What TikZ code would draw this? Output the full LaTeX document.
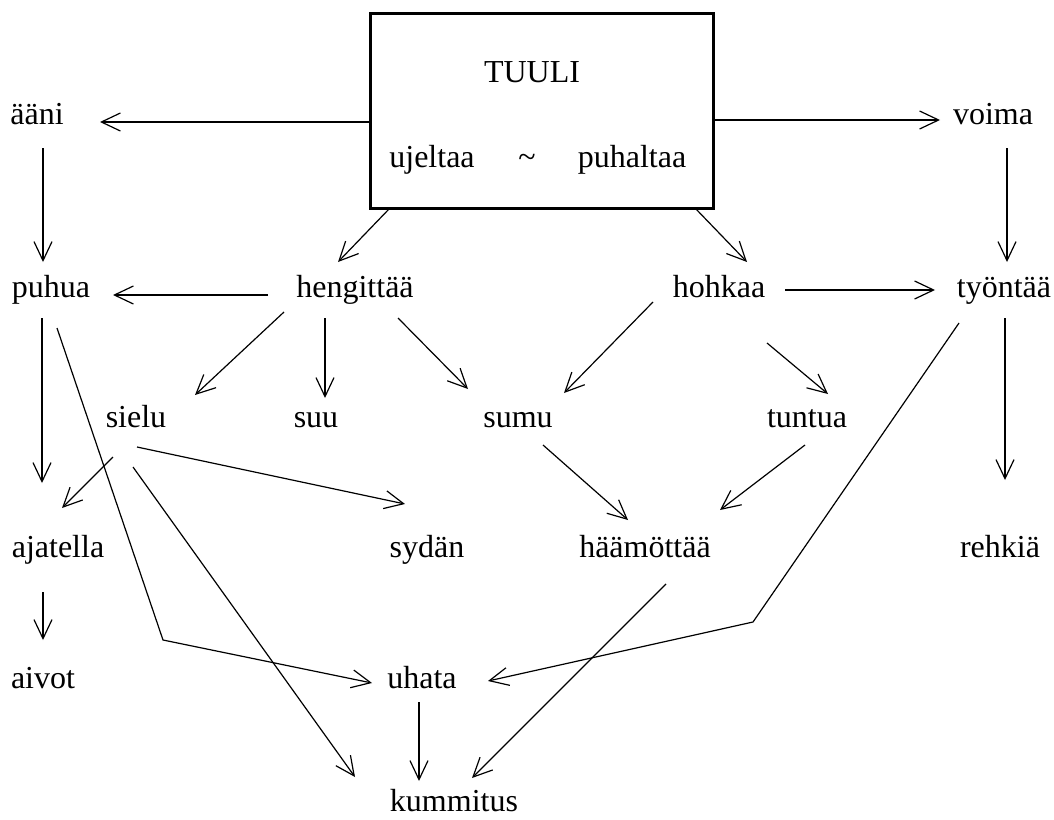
\documentclass[tikz,border=0pt]{standalone}
\usepackage{fontspec}
\setmainfont{Liberation Serif}
\usepackage{tikz}
\usetikzlibrary{arrows.meta}

\begin{document}
\begin{tikzpicture}[x=1pt,y=-1pt]
						\tikzstyle{word}=[anchor=base,inner sep=0pt,font=\fontsize{32}{38}\selectfont]
						\tikzstyle{arr}=[line width=1.2pt,-{Straight Barb[length=19pt,width=18pt,line width=1.2pt]}]
						\useasboundingbox (0,0) rectangle (1054,819);
						\node[draw,line width=3pt,outer sep=0pt,inner sep=0pt,minimum width=343pt,minimum height=195pt](box) at (541.5,110.5) {};
						\node[word](tuuli) at (532,82) {TUULI};
						\node[word](ujeltaa) at (432,167) {ujeltaa};
						\node[word](tilde) at (527,167) {\textasciitilde};
						\node[word](puhaltaa) at (632,167) {puhaltaa};
						\node[word](aani) at (37,124) {ääni};
						\node[word](voima) at (993,124) {voima};
						\node[word](puhua) at (51,297) {puhua};
						\node[word](hengittaa) at (355,297) {hengittää};
						\node[word](hohkaa) at (719,297) {hohkaa};
						\node[word](tyontaa) at (1004,297) {työntää};
						\node[word](sielu) at (136,427) {sielu};
						\node[word](suu) at (316,427) {suu};
						\node[word](sumu) at (518,427) {sumu};
						\node[word](tuntua) at (807,427) {tuntua};
						\node[word](ajatella) at (58,557) {ajatella};
						\node[word](sydan) at (427,557) {sydän};
						\node[word](haamottaa) at (645,557) {häämöttää};
						\node[word](rehkia) at (1000,557) {rehkiä};
						\node[word](aivot) at (43,688) {aivot};
						\node[word](uhata) at (422,688) {uhata};
						\node[word](kummitus) at (454,811) {kummitus};
						\draw[arr] ([shift={(0,11.5)}]box.west) -- ([shift={(63,-2)}]aani.base);
						\draw[arr] ([shift={(0,9.5)}]box.east) -- ([shift={(-53,-4)}]voima.base);
						\draw[arr] ([shift={(20,0)}]box.south west) -- ([shift={(-17,-35)}]hengittaa.base);
						\draw[arr] ([shift={(-18,0)}]box.south east) -- ([shift={(28,-35)}]hohkaa.base);
						\draw[arr] ([shift={(6,24)}]aani.base) -- ([shift={(-8,-35)}]puhua.base);
						\draw[arr] ([shift={(14,24)}]voima.base) -- ([shift={(3,-35)}]tyontaa.base);
						\draw[arr] ([shift={(-87,-2)}]hengittaa.base) -- ([shift={(62,-2)}]puhua.base);
						\draw[arr] ([shift={(66,-7)}]hohkaa.base) -- ([shift={(-69,-7)}]tyontaa.base);
						\draw[arr] ([shift={(-71,15)}]hengittaa.base) -- ([shift={(59,-32)}]sielu.base);
						\draw[arr] ([shift={(-30,21)}]hengittaa.base) -- ([shift={(9,-29)}]suu.base);
						\draw[arr] ([shift={(43,21)}]hengittaa.base) -- ([shift={(-50,-38)}]sumu.base);
						\draw[arr] ([shift={(-66,5)}]hohkaa.base) -- ([shift={(46,-34)}]sumu.base);
						\draw[arr] ([shift={(48,46)}]hohkaa.base) -- ([shift={(21,-33)}]tuntua.base);
						\draw[arr] ([shift={(-9,21)}]puhua.base) -- ([shift={(-16,-74)}]ajatella.base);
						\draw[arr] ([shift={(6,31)}]puhua.base) -- ++(106,312) -- ([shift={(-50,-5)}]uhata.base);
						\draw[arr] ([shift={(-23,30)}]sielu.base) -- ([shift={(4,-49)}]ajatella.base);
						\draw[arr] ([shift={(1,20)}]sielu.base) -- ([shift={(-22,-53)}]sydan.base);
						\draw[arr] ([shift={(-3,40)}]sielu.base) -- ([shift={(-99,-34)}]kummitus.base);
						\draw[arr] ([shift={(25,18)}]sumu.base) -- ([shift={(-17,-37)}]haamottaa.base);
						\draw[arr] ([shift={(-2,18)}]tuntua.base) -- ([shift={(75,-47)}]haamottaa.base);
						\draw[arr] ([shift={(-45,26)}]tyontaa.base) -- ++(-206,299) -- ([shift={(66,-7)}]uhata.base);
						\draw[arr] ([shift={(1,21)}]tyontaa.base) -- ([shift={(5,-77)}]rehkia.base);
						\draw[arr] ([shift={(21,27)}]haamottaa.base) -- ([shift={(18,-33)}]kummitus.base);
						\draw[arr] ([shift={(-15,35)}]ajatella.base) -- ([shift={(0,-48)}]aivot.base);
						\draw[arr] ([shift={(-3,14)}]uhata.base) -- ([shift={(-35,-30)}]kummitus.base);
					\end{tikzpicture}
\end{document}
